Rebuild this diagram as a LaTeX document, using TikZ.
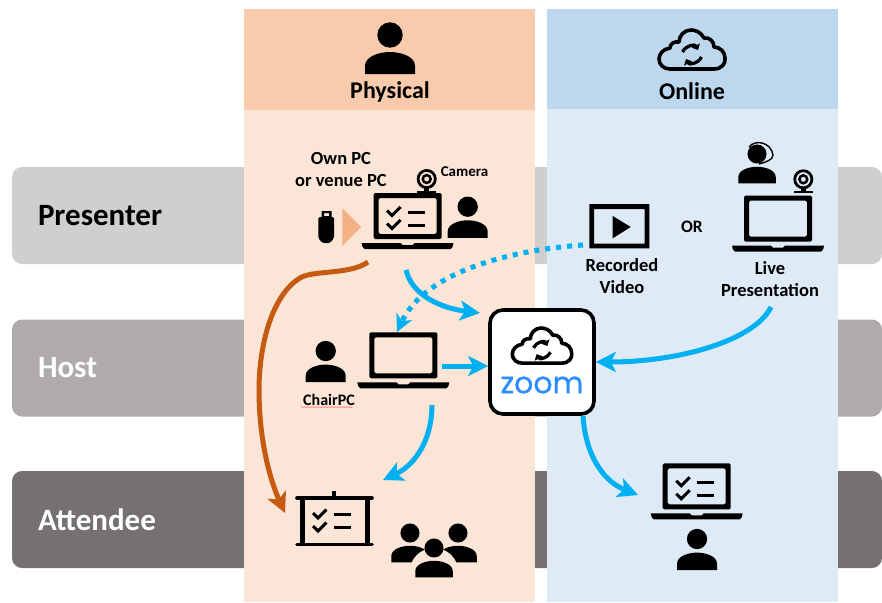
\documentclass[tikz,border=0pt]{standalone}
\usepackage{fontspec}
\setmainfont{Carlito}
\newfontfamily\zoomfont[FakeBold=0.7]{Poppins}
\usetikzlibrary{arrows.meta,decorations.pathmorphing}
\definecolor{presentergray}{HTML}{D0CECE}
\definecolor{hostgray}{HTML}{AFABAB}
\definecolor{attendeegray}{HTML}{767171}
\definecolor{physhead}{HTML}{F8CBAD}
\definecolor{physbody}{HTML}{FBE5D6}
\definecolor{onlinehead}{HTML}{BDD7EE}
\definecolor{onlinebody}{HTML}{DEEBF7}
\definecolor{flowblue}{HTML}{00B0F0}
\definecolor{flowbrown}{HTML}{C55A11}
\definecolor{usbarrow}{HTML}{F4B183}
\definecolor{zoomblue}{HTML}{2D8CFF}
\tikzset{
	band/.style = {rounded corners=10pt, minimum height=97pt, text width=818pt, inner xsep=26pt, outer sep=0pt, align=left, font=\bfseries\fontsize{31}{34}\selectfont},
	column/.style = {minimum width=291pt, inner sep=0pt, outer sep=0pt},
	colhead/.style = {font=\bfseries\fontsize{24}{27}\selectfont},
	label/.style = {align=center, font=\bfseries\fontsize{18.5}{22}\selectfont},
	blueflow/.style = {draw=flowblue, line width=5pt, -{Stealth[length=20pt,width=20pt,inset=5pt]}},
	person/.pic = {
		\fill (0,0) circle (12.7);
		\fill (-25,39) -- (-25,31) .. controls (-25,21) and (-10,17) .. (0,17) .. controls (10,17) and (25,21) .. (25,31) -- (25,39) -- cycle;
	},
	laptop/.pic = {
		\fill[even odd rule, rounded corners=1.5pt] (-34,0) rectangle (34,46) (-29,5) rectangle (29,41);
		\fill (-46,50) -- (-7,50) -- (-5,52) -- (5,52) -- (7,50) -- (46,50) -- (45,54) -- (43,56) -- (-43,56) -- (-45,54) -- cycle;
	},
	ticklist/.pic = {
		\draw[line width=3pt] (-20.5,17.5) -- (-15.5,22.5) -- (-7,14);
		\draw[line width=3pt] (-20.5,30.5) -- (-15.5,35.5) -- (-7,27);
		\draw[line width=3pt] (0.5,19) -- (17.5,19) (0.5,32) -- (17.5,32);
	},
	webcam/.pic = {
		\fill[even odd rule] (0,0) circle (10) (0,0) circle (7.2) (0,0) circle (5.3) (0,0) circle (2.6);
		\fill (-2.5,9) rectangle (2.5,12);
		\fill (-9.5,12) rectangle (9.5,14);
	},
	cloud/.pic = {
		\draw[line width=3.6pt, line join=round] (-22,19) -- (22,19) .. controls (30,19) and (34,13) .. (33,8) .. controls (33,2) and (28,-3) .. (22,-3) .. controls (22,-9) and (17,-13) .. (12,-12) .. controls (9,-18) and (3,-20) .. (-1,-20) .. controls (-8,-20) and (-13,-14) .. (-13,-8) .. controls (-18,-9) and (-22,-6) .. (-22,-2) .. controls (-29,-1) and (-33,4) .. (-33,9) .. controls (-33,15) and (-28,19) .. (-22,19) -- cycle;
		\draw[line width=3.2pt, -{Triangle[length=5pt,width=9pt]}] (-9.5,2) .. controls (-6,-5) and (3,-6) .. (6,0);
		\draw[line width=3.2pt, -{Triangle[length=5pt,width=9pt]}] (9.5,7) .. controls (6,14) and (-3,15) .. (-6,9);
	}
}
\begin{document}
\begin{tikzpicture}[x=1pt, y=-1pt]
	\useasboundingbox (0,0) rectangle (882,602);
	% rows
	\node[band, fill=presentergray] (presenter) at (447,215.5) {Presenter};
	\node[band, fill=hostgray, text=white] (host) at (447,368) {Host};
	\node[band, fill=attendeegray, text=white] (attendee) at (447,519.5) {Attendee};
	% columns
	\node[column, fill=physbody, minimum height=492pt] (physical) at (389.5,356) {};
	\node[column, fill=physhead, minimum height=101pt] (physicalhead) at (389.5,59.5) {};
	\node[column, fill=onlinebody, minimum height=493pt] (online) at (692.5,355.5) {};
	\node[column, fill=onlinehead, minimum height=100pt] (onlinetop) at (692.5,59) {};
	\node[colhead] (physicaltext) at (390,92) {Physical};
	\node[colhead] (onlinetext) at (692,91) {Online};
	\pic at (390,35) {person};
	\pic at (692,50) {cloud};
	% presenter row, physical
	\node[label] (ownpc) at (341,169) {Own PC\\or venue PC};
	\node[label, font=\bfseries\fontsize{15}{16}\selectfont] (camera) at (464.5,172) {Camera};
	\fill[even odd rule] (321.5,211) rectangle (331.5,218) (324,213) rectangle (329,216);
	\fill[rounded corners=1.5pt] (318.3,217) -- (334,217) -- (334,238) -- (330,243) -- (322.3,243) -- (318.3,238) -- cycle;
	\fill[usbarrow] (342.3,208.3) -- (361,227) -- (342.3,246) -- cycle;
	\pic at (407.5,193) {laptop};
	\pic at (407.5,193) {ticklist};
	\pic at (426.7,179) {webcam};
	\pic[scale=.8] at (467.7,206.7) {person};
	% presenter row, online
	\fill[even odd rule] (589.3,204) rectangle (649.3,248.3) (594,209) rectangle (644.5,243.5);
	\fill (612.7,216) -- (630.7,227) -- (612.7,238.3) -- cycle;
	\node[label] (recorded) at (622,276) {Recorded\\Video};
	\node[label, font=\bfseries\fontsize{17.5}{22}\selectfont] (ortext) at (692,227) {OR};
	\pic at (778,195.7) {laptop};
	\pic at (803.3,179.3) {webcam};
	\pic[scale=.75] at (757,154) {person};
	\draw[line width=1.4pt] (749,147) .. controls (755,139) and (771,142) .. (773,155) .. controls (773,160) and (766,162) .. (759,164);
	\node[label] (live) at (770,279) {Live\\Presentation};
	% host row
	\pic[scale=.8] at (325.7,351) {person};
	\pic at (403.3,332.3) {laptop};
	\node[label, font=\bfseries\fontsize{16}{18}\selectfont] (chairpc) at (329,400) {ChairPC};
	\draw[red!60, decorate, decoration={snake, amplitude=.7pt, segment length=3pt}] (chairpc.south west) ++(1,-2) -- ++(52,0);
	% attendee row
	\fill (332,491) rectangle (336,498);
	\draw[line width=3.6pt, line cap=round] (297,498) -- (372,498) (297,544.3) -- (372,544.3);
	\draw[line width=5pt] (302.5,498) -- (302.5,544.3) (367,498) -- (367,544.3);
	\pic at (333.5,495.5) {ticklist};
	\pic[scale=.75] at (410,533) {person};
	\pic[scale=.75] at (458,533) {person};
	\fill[physbody] (434,571) ellipse (24 and 23);
	\pic[scale=.75] at (434,548) {person};
	\pic at (696.7,463.3) {laptop};
	\pic at (696.7,463.3) {ticklist};
	\pic[scale=.8] at (697,539) {person};
	% zoom
	\node[draw, fill=white, line width=3.6pt, rounded corners=13pt, minimum size=104pt, inner sep=0pt] (zoombox) at (542,362) {};
	\pic[scale=.9] at (542,346) {cloud};
	\node[text=zoomblue, inner sep=0pt, font=\zoomfont\fontsize{30}{32}\selectfont] (zoomtext) at (542,385) {zoom};
	% ends of the connectors
	\coordinate (laptopout) at (406,270);
	\coordinate (zoomin) at (480,313);
	\coordinate (videoout) at (583,245);
	\coordinate (chairin) at (397,332);
	\coordinate (chairout) at (442,366);
	\coordinate (chairdown) at (432,405);
	\coordinate (screenin) at (383,480);
	\coordinate (liveout) at (771,307);
	\coordinate (attendeein) at (638,495);
	\coordinate (brownout) at (368,262);
	\coordinate (brownin) at (285,513);
	% connectors
	\draw[blueflow] (laptopout) .. controls (412,295) and (440,308) .. (zoomin);
	\draw[blueflow, -{Stealth[length=17pt,width=17pt,inset=5pt]}, dash pattern=on 5pt off 6pt] (videoout) .. controls (510,250) and (425,272) .. (chairin);
	\draw[blueflow] (chairout) -- (zoombox.west |- chairout);
	\draw[blueflow] (chairdown) .. controls (432,440) and (415,465) .. (screenin);
	\draw[blueflow] (liveout) .. controls (755,340) and (680,362) .. (zoombox.east);
	\draw[blueflow] (zoombox.south -| 583,0) .. controls (585,450) and (600,480) .. (attendeein);
	\draw[draw=flowbrown, line width=5pt, -{Stealth[length=20pt,width=20pt,inset=5pt]}] (brownout) .. controls (350,275) and (312,270) .. (300,278) .. controls (272,295) and (259,345) .. (259,390) .. controls (259,440) and (270,480) .. (brownin);
\end{tikzpicture}
\end{document}
